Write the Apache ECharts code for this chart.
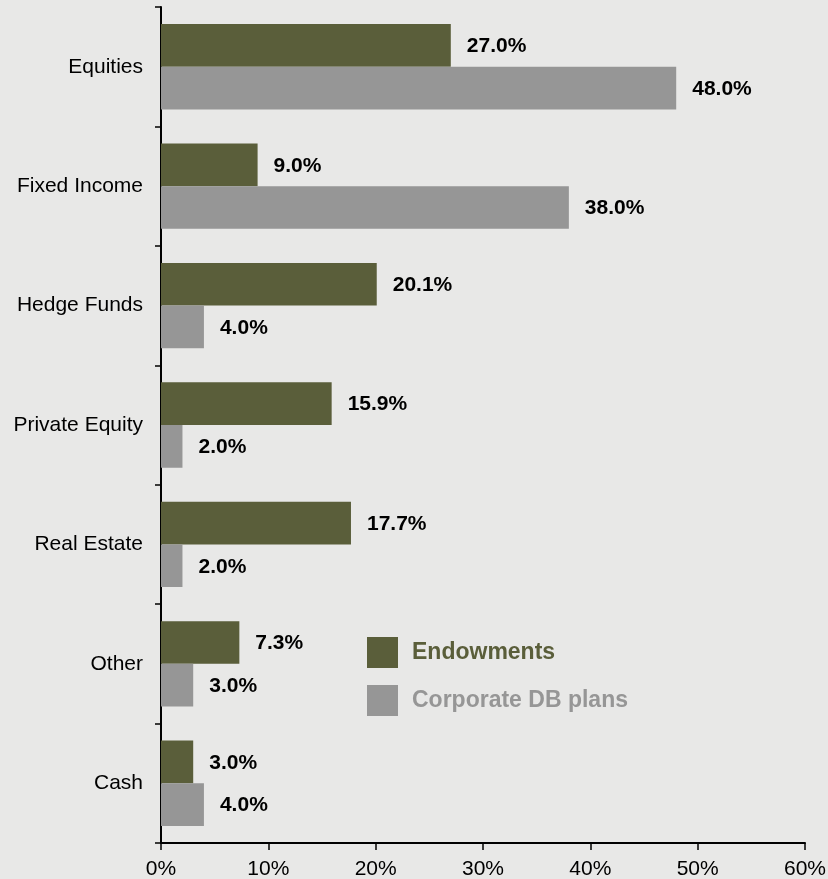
<!DOCTYPE html>
<html>
<head>
<meta charset="utf-8">
<script src="https://cdn.jsdelivr.net/npm/echarts@6/dist/echarts.min.js"></script>
<style>
html,body{margin:0;padding:0;background:#e8e8e7;}
#chart{width:828px;height:879px;}
</style>
</head>
<body>
<div id="chart"></div>
<script>
const categories = ['Equities', 'Fixed Income', 'Hedge Funds', 'Private Equity', 'Real Estate', 'Other', 'Cash'];
const endowments = [27.0, 9.0, 20.1, 15.9, 17.7, 7.3, 3.0];
const corporateDB = [48.0, 38.0, 4.0, 2.0, 2.0, 3.0, 4.0];
const seriesNames = ['Endowments', 'Corporate DB plans'];
const xTicks = [0, 10, 20, 30, 40, 50, 60];

const FONT = '"Liberation Sans", Arial, Helvetica, sans-serif';
const OLIVE = '#5a5e3a';
const GRAY = '#969696';

const chart = echarts.init(document.getElementById('chart'));
const labelOpt = {
  show: true,
  position: 'right',
  distance: 16,
  offset: [0, 1],
  color: '#000',
  fontFamily: FONT,
  fontWeight: 'bold',
  fontSize: 21,
  formatter: p => p.value.toFixed(1) + '%'
};
chart.setOption({
  backgroundColor: '#e8e8e7',
  animation: false,
  grid: { left: 161, right: 23, top: 7, bottom: 36, containLabel: false, outerBoundsMode: 'none' },
  legend: {
    orient: 'vertical',
    left: 367,
    top: 637,
    padding: 0,
    itemWidth: 31,
    itemHeight: 31,
    itemGap: 17,
    icon: 'rect',
    data: [
      { name: seriesNames[0], textStyle: { color: OLIVE } },
      { name: seriesNames[1], textStyle: { color: GRAY } }
    ],
    textStyle: {
      fontFamily: FONT,
      fontWeight: 'bold',
      fontSize: 23,
      padding: [0, 0, 0, 9]
    }
  },
  xAxis: {
    type: 'value',
    min: xTicks[0],
    max: xTicks[xTicks.length - 1],
    interval: 10,
    splitLine: { show: false },
    axisLine: { show: true, lineStyle: { color: '#000', width: 2 } },
    axisTick: { show: true, length: 7, lineStyle: { color: '#000', width: 1.5 } },
    axisLabel: {
      margin: 16,
      color: '#000',
      fontFamily: FONT,
      fontSize: 21,
      formatter: '{value}%'
    }
  },
  yAxis: {
    type: 'category',
    inverse: true,
    data: categories,
    axisLine: { show: true, lineStyle: { color: '#000', width: 2 } },
    axisTick: { show: true, length: 6, lineStyle: { color: '#000', width: 1.5 } },
    axisLabel: {
      margin: 18,
      color: '#000',
      fontFamily: FONT,
      fontSize: 21
    }
  },
  series: [
    {
      name: seriesNames[0],
      type: 'bar',
      data: endowments,
      itemStyle: { color: OLIVE },
      barCategoryGap: '28.5%',
      barGap: '0%',
      label: labelOpt
    },
    {
      name: seriesNames[1],
      type: 'bar',
      data: corporateDB,
      itemStyle: { color: GRAY },
      barCategoryGap: '28.5%',
      barGap: '0%',
      label: labelOpt
    }
  ]
});
</script>
</body>
</html>
